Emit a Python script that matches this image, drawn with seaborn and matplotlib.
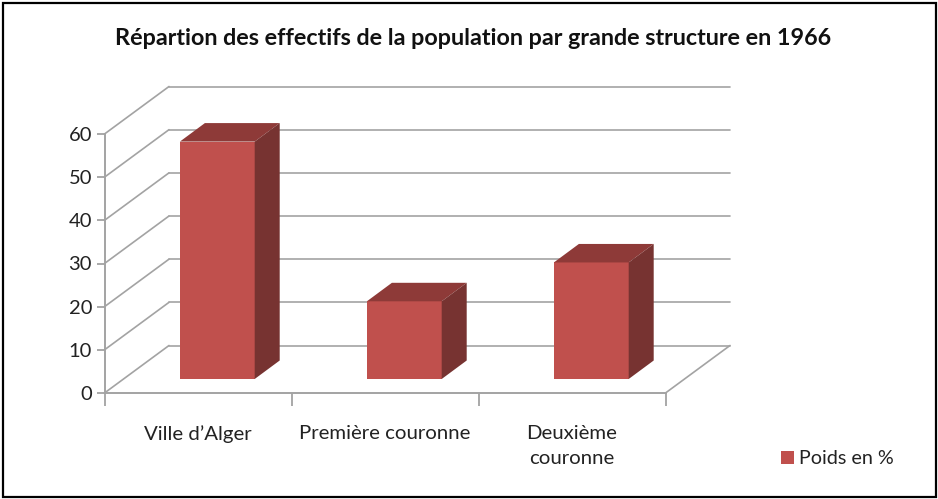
"""
Repartition de la population par grande structure, 1966 (pseudo 3D bar chart)
"""

import matplotlib.pyplot as plt
import matplotlib.patches as mpatches
import seaborn as sns
import pandas as pd

categories = ["Ville d’Alger", "Première couronne", "Deuxième\ncouronne"]
values = [55, 18, 27]
y_ticks = [0, 10, 20, 30, 40, 50, 60]
title = "Répartion des effectifs de la population par grande structure en 1966"
series_name = "Poids en %"

W, H = 938, 499

FRONT = '#C0504D'
TOP = '#8E3A38'
SIDE = '#773331'
LINE = '#A3A3A3'
TEXT = '#222222'

sns.set_theme(style='white')
plt.rcParams['font.family'] = ['Lato', 'DejaVu Sans']

df = pd.DataFrame({'structure': categories, 'poids': values})

fig = plt.figure(figsize=(W / 100, H / 100), dpi=100, facecolor='white')


def px_axes(left, right, bottom, top):
    # axes placed from pixel positions, measured from the top of the image
    a = fig.add_axes([left / W, 1 - bottom / H, (right - left) / W, (bottom - top) / H])
    a.set_xlim(-0.5, 2.5)
    a.set_ylim(0, 60)
    a.patch.set_alpha(0)
    return a


# Main frame: front plane of the 3D box
ax = px_axes(104.5, 665.5, 393, 134)
sx = 561 / 3       # pixels per category
sy = 259 / 60      # pixels per unit

# Floor and back wall
wall_dx, wall_dy = 64.5 / sx, 47.5 / sy
for v in y_ticks:
    ax.plot([-0.5, -0.5 + wall_dx], [v, v + wall_dy], color=LINE, lw=1.2, clip_on=False)
    ax.plot([-0.5 + wall_dx, 2.5 + wall_dx], [v + wall_dy, v + wall_dy], color=LINE, lw=1.2, clip_on=False)
ax.plot([-0.5, 2.5], [0, 0], color=LINE, lw=1.4, clip_on=False)
ax.plot([2.5, 2.5 + wall_dx], [0, wall_dy], color=LINE, lw=1.2, clip_on=False)

sns.despine(ax=ax, left=False, bottom=True)
ax.spines['left'].set_color(LINE)
ax.spines['left'].set_linewidth(1.4)
ax.set_yticks(y_ticks)
ax.set_xticks(range(len(categories)), categories)
ax.set_xticks([-0.5, 0.5, 1.5, 2.5], minor=True)
ax.tick_params(axis='y', left=True, length=6, width=1.3, color=LINE, labelsize=14.5, labelcolor=TEXT, pad=3)
ax.tick_params(axis='x', which='major', bottom=False, labelsize=14.7, labelcolor=TEXT, pad=17)
ax.tick_params(axis='x', which='minor', bottom=True, length=9, width=1.3, color=LINE)
for label in ax.get_xticklabels():
    label.set_linespacing(1.55)
    label.set_verticalalignment('top')
ax.grid(False)

# Bars sit on a plane part way into the box
ax_bars = px_axes(104.5 + 19.3, 665.5 + 19.3, 379, 120)
sns.barplot(data=df, x='structure', y='poids', color=FRONT, saturation=1, width=0.4,
            label=series_name, legend=False, linewidth=0, ax=ax_bars, zorder=3)
ax_bars.set_xlim(-0.5, 2.5)
ax_bars.set_ylim(0, 60)
ax_bars.axis('off')

depth_x, depth_y = 25 / sx, 18.5 / sy
for bar in ax_bars.patches:
    x0, x1 = bar.get_x(), bar.get_x() + bar.get_width()
    h = bar.get_height()
    ax_bars.add_patch(mpatches.Polygon(
        [(x0, h), (x1, h), (x1 + depth_x, h + depth_y), (x0 + depth_x, h + depth_y)],
        facecolor=TOP, edgecolor='none', clip_on=False, zorder=3))
    ax_bars.add_patch(mpatches.Polygon(
        [(x1, 0), (x1 + depth_x, depth_y), (x1 + depth_x, h + depth_y), (x1, h)],
        facecolor=SIDE, edgecolor='none', clip_on=False, zorder=3))

handles = [mpatches.Patch(facecolor=FRONT, edgecolor='none', label=series_name)]
if ax_bars.get_legend() is not None:
    ax_bars.get_legend().remove()
fig.legend(handles=handles, loc='center left', bbox_to_anchor=(763 / W, 1 - 459 / H), frameon=False,
           fontsize=14.2, labelcolor=TEXT, handlelength=0.65, handleheight=0.65, handletextpad=0.3)

fig.text(473.5 / W, 1 - 38.5 / H, title, ha='center', va='center', fontsize=16.85, fontweight='bold', color='#111111')

# Outer frame of the picture
fig.add_artist(mpatches.Rectangle((3 / W, 1 - 497 / H), 933 / W, 494 / H, transform=fig.transFigure,
                                  fill=False, edgecolor='black', linewidth=1.6))

plt.savefig('out.png', dpi=100)
plt.close()
